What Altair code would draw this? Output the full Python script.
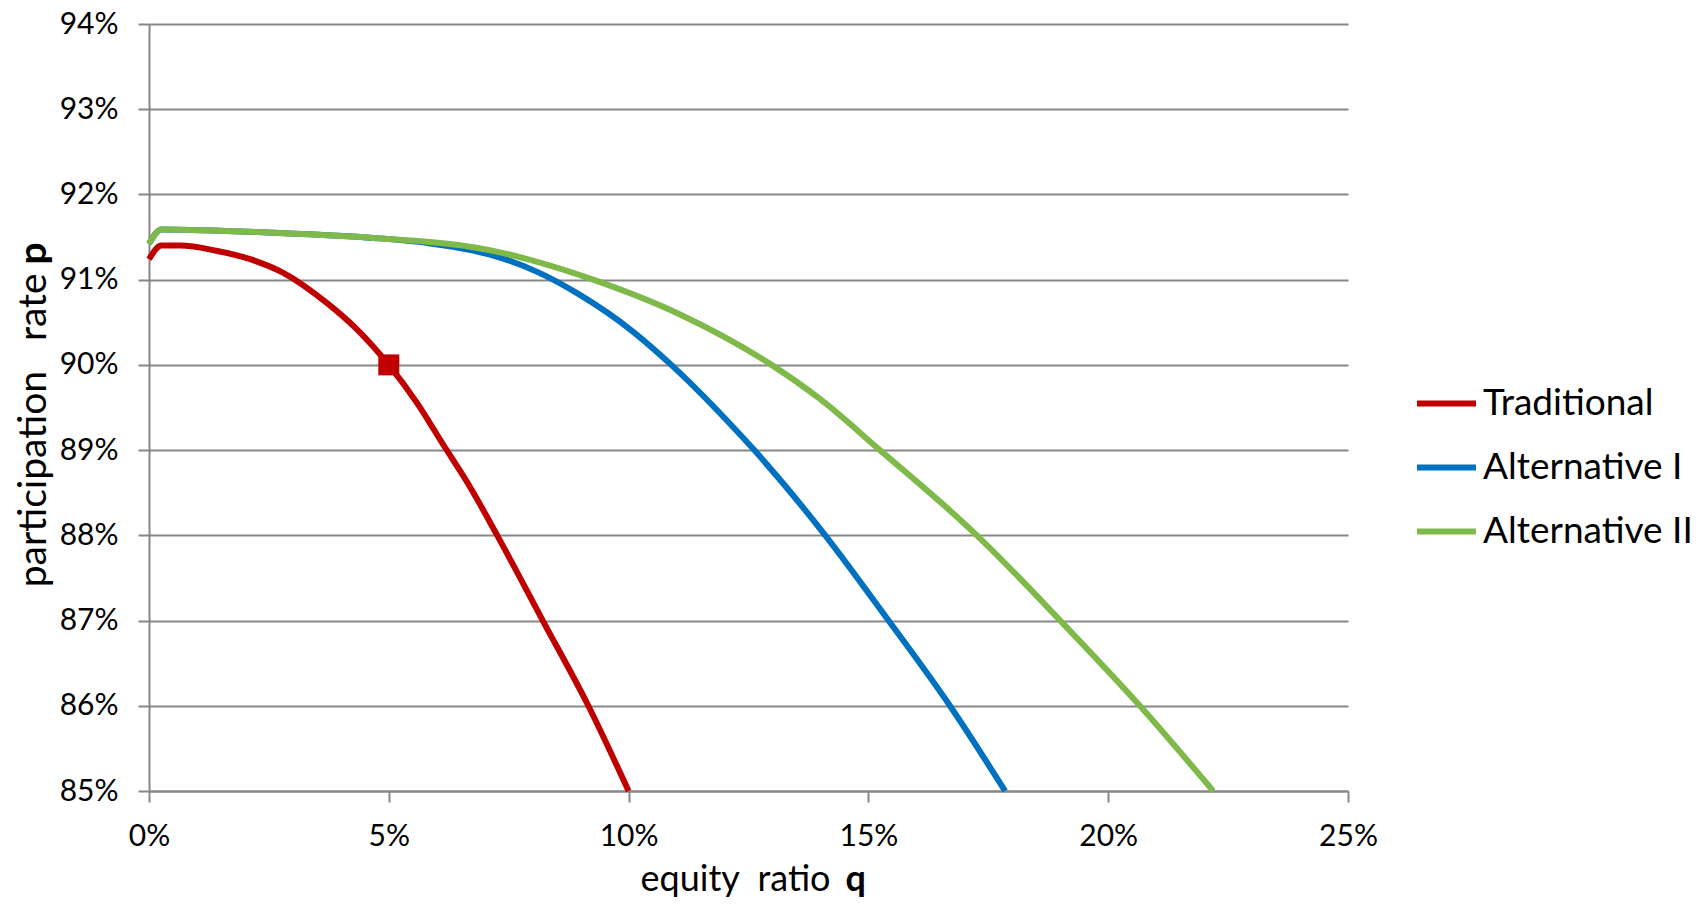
import altair as alt
import pandas as pd

series_names = ["Traditional", "Alternative I", "Alternative II"]
series_colors = ["#C00000", "#0070C0", "#7EB94A"]

q_trad = [0, 0.26, 0.65, 1.4, 2.11, 2.8, 3.7, 4.33, 5.0, 5.58, 6.14, 6.66, 7.26, 8.21, 9.16, 10.0]
p_trad = [91.24, 91.40, 91.40, 91.34, 91.24, 91.08, 90.73, 90.42, 90.0, 89.56, 89.06, 88.60,
          88.0, 87.0, 86.0, 85.0]

q_alt1 = [0, 0.26, 2.6, 4.68, 5.8, 6.76, 7.32, 8.14, 8.96, 10.07, 10.89, 12.08, 12.62, 14.10,
          15.42, 16.70, 17.85]
p_alt1 = [91.42, 91.59, 91.55, 91.49, 91.43, 91.34, 91.26, 91.08, 90.83, 90.40, 90.0, 89.33,
          89.0, 88.0, 87.0, 86.0, 85.0]

q_alt2 = [0, 0.26, 2.6, 4.68, 6.76, 7.32, 8.15, 9.26, 11.04, 12.98, 13.99, 15.24, 16.78, 17.26,
          19.0, 20.66, 22.19]
p_alt2 = [91.42, 91.59, 91.55, 91.49, 91.38, 91.32, 91.20, 91.0, 90.60, 90.0, 89.60, 89.0,
          88.25, 88.0, 87.0, 86.0, 85.0]

marker_q = [5]
marker_p = [90]

x_ticks = [0, 0.05, 0.10, 0.15, 0.20, 0.25]
y_ticks = [0.85, 0.86, 0.87, 0.88, 0.89, 0.90, 0.91, 0.92, 0.93, 0.94]

rows = []
for name, qs, ps in zip(series_names, [q_trad, q_alt1, q_alt2], [p_trad, p_alt1, p_alt2]):
    for i, (q, p) in enumerate(zip(qs, ps)):
        rows.append({"series": name, "q": q / 100, "p": p / 100, "order": i})
df = pd.DataFrame(rows)
mdf = pd.DataFrame({"q": [v / 100 for v in marker_q], "p": [v / 100 for v in marker_p]})

FONT = "Lato"
GRAY = "#878787"
X_TITLE_SIZE = 36
Y_TITLE_SIZE = 39

x_scale = alt.Scale(domain=[0, 0.25], nice=False)
y_scale = alt.Scale(domain=[0.85, 0.94], nice=False, zero=False)

lines = alt.Chart(df).mark_line(strokeWidth=6, interpolate="monotone").encode(
    x=alt.X("q:Q", scale=x_scale,
            axis=alt.Axis(values=x_ticks, format=".0%", grid=False, labelFlush=False,
                          title="equity\u00a0 ratio", titleFontSize=X_TITLE_SIZE,
                          titleFontWeight="normal", titleAlign="right",
                          titleBaseline="alphabetic", titleX=681, titleY=99,
                          labelFontSize=30, labelPadding=19, tickSize=11)),
    y=alt.Y("p:Q", scale=y_scale,
            axis=alt.Axis(values=y_ticks, format=".0%", grid=True,
                          title="participation\u00a0\u00a0 rate", titleFontSize=Y_TITLE_SIZE,
                          titleFontWeight="normal", titleAngle=270, titleAlign="right",
                          titleBaseline="alphabetic", titleX=-104, titleY=249,
                          labelFontSize=30, labelPadding=20, tickSize=11)),
    order="order:Q",
    color=alt.Color("series:N",
                    scale=alt.Scale(domain=series_names, range=series_colors),
                    sort=series_names,
                    legend=alt.Legend(orient="none", legendX=1265, legendY=347,
                                      title=None, symbolType="stroke",
                                      symbolStrokeWidth=6, symbolSize=3481,
                                      labelFontSize=37, labelFont=FONT, labelLimit=0,
                                      labelOffset=4, rowPadding=13,
                                      labelColor="black")),
)

marker = alt.Chart(mdf).mark_square(size=440, color="#C00000", opacity=1).encode(
    x=alt.X("q:Q", scale=x_scale,
            axis=alt.Axis(orient="bottom", labels=False, ticks=False, domain=False, grid=False,
                          title="q", titleFontSize=X_TITLE_SIZE, titleFontWeight="bold",
                          titleAlign="left", titleBaseline="alphabetic",
                          titleX=696, titleY=99)),
    y=alt.Y("p:Q", scale=y_scale,
            axis=alt.Axis(orient="left", labels=False, ticks=False, domain=False, grid=False,
                          title="p", titleFontSize=Y_TITLE_SIZE, titleFontWeight="bold",
                          titleAngle=270, titleAlign="left", titleBaseline="alphabetic",
                          titleX=-104, titleY=240)),
)

chart = (lines + marker).resolve_axis(x="independent", y="independent").properties(
    width=1199, height=767,
    autosize=alt.AutoSizeParams(type="none"),
    padding={"left": 141, "top": 16, "right": 346, "bottom": 108},
    background="white",
).configure_view(stroke=None).configure_axis(
    labelFont=FONT, titleFont=FONT, labelColor="black", titleColor="black",
    domainColor=GRAY, domainWidth=2, tickColor=GRAY, tickWidth=2,
    gridColor=GRAY, gridWidth=2,
)

chart.save("out.html", embed_options={"renderer": "svg", "actions": False})
